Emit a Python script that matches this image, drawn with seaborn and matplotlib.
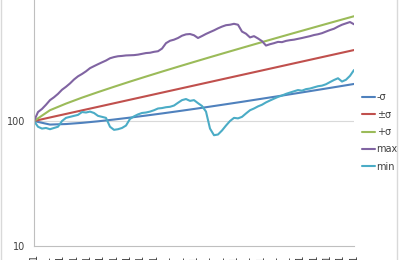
import matplotlib
matplotlib.use("Agg")
import matplotlib.pyplot as plt
import pandas as pd
import seaborn as sns
from matplotlib.patches import Rectangle
from matplotlib.ticker import NullLocator, FixedLocator

# ---- data ----
smooth_cat = list(range(1, 242, 12))
jag_cat = list(range(1, 242, 3))

minus_sigma = [100, 93.7, 94.6, 96.7, 99.5, 102.8, 106.5, 110.6, 115.0, 119.8, 124.9,
               130.4, 136.3, 142.5, 149.2, 156.2, 163.6, 171.5, 179.8, 188.6, 198.0]
pm_sigma = [100, 106.8, 114.0, 121.7, 129.9, 138.7, 148.1, 158.1, 168.8, 180.2, 192.4,
            205.4, 219.3, 234.1, 249.9, 266.8, 284.9, 304.1, 324.7, 346.6, 370.0]
plus_sigma = [100, 122.1, 137.9, 153.9, 170.4, 188.0, 206.9, 227.0, 248.7, 272.0, 297.1,
              324.3, 353.5, 385.1, 419.3, 456.1, 496.0, 539.0, 585.6, 635.9, 690.0]
max_vals = [100, 118, 125, 135, 147, 155, 165, 178, 188, 200, 215, 228, 238, 250, 265, 275,
            285, 295, 305, 318, 325, 330, 332, 335, 336, 337, 340, 345, 350, 352, 358, 362,
            380, 420, 439, 448, 462, 482, 494, 497, 486, 462, 479, 498, 515, 532, 552, 570,
            585, 590, 600, 590, 520, 500, 467, 478, 458, 436, 402, 412, 420, 430, 428, 438,
            444, 448, 455, 462, 470, 478, 488, 495, 505, 520, 535, 548, 570, 590, 605, 620, 595]
min_vals = [100, 90, 87, 88, 86, 88, 90, 100, 106, 108, 110, 112, 118, 117, 119, 116,
            110, 108, 106, 90, 85, 86, 88, 92, 104, 109, 113, 116, 117, 119, 122, 126,
            127, 129, 130, 133, 140, 147, 150, 145, 147, 139, 132, 119, 87, 77, 78, 84,
            92, 100, 106, 105, 108, 115, 122, 126, 131, 135, 141, 146, 151, 156, 160, 165,
            169, 173, 177, 175, 180, 182, 186, 190, 192, 197, 205, 213, 220, 207, 214, 230, 256]

series_names = ["-σ", "±σ", "+σ", "max", "min"]
colors = ["#4F81BD", "#C0504D", "#9BBB59", "#8064A2", "#4BACC6"]
tick_positions = list(range(1, 242, 10))
tick_labels = ["1", "11", "21", "31", "41", "51", "61", "71", "81", "91", "101", "111",
               "121", "131", "141", "151", "161", "171", "181", "191", "201", "211",
               "221", "231", "241"]

frames = []
for name, cats, vals in [("-σ", smooth_cat, minus_sigma), ("±σ", smooth_cat, pm_sigma),
                         ("+σ", smooth_cat, plus_sigma), ("max", jag_cat, max_vals),
                         ("min", jag_cat, min_vals)]:
    frames.append(pd.DataFrame({"cat": cats, "value": vals, "series": name}))
df = pd.concat(frames, ignore_index=True)

# ---- plot ----
sns.set_style("white")
plt.rcParams['font.family'] = ['DejaVu Sans']

fig = plt.figure(figsize=(4, 2.6), dpi=100)
ax = fig.add_axes([0.085, 0.054, 0.8, 0.961])

sns.lineplot(data=df, x="cat", y="value", hue="series", hue_order=series_names,
             palette=colors, linewidth=1.5, ax=ax, sort=False, estimator=None)

ax.set_yscale("log")
ax.set_ylim(10, 1000)
ax.set_xlim(1, 241)
ax.yaxis.set_major_locator(FixedLocator([10, 100, 1000]))
ax.yaxis.set_minor_locator(NullLocator())
ax.set_yticklabels(["10", "100", "1000"])
ax.axhline(100, color="#d9d9d9", lw=0.8, zorder=0)
ax.axhline(1000, color="#d9d9d9", lw=0.8, zorder=0)

ax.set_xticks(tick_positions)
ax.set_xticklabels(tick_labels, rotation=90, fontsize=7, color="#404040")
ax.set_xticks(list(range(1, 242)), minor=True)
ax.tick_params(axis="x", which="both", length=4, color="#d0d0d0", width=0.8, pad=2)
ax.tick_params(axis="y", which="major", length=3, color="#bfbfbf", labelsize=7,
               labelcolor="#404040", pad=3)

for s in ["top", "right"]:
    ax.spines[s].set_visible(False)
for s in ["left", "bottom"]:
    ax.spines[s].set_color("#bfbfbf")
    ax.spines[s].set_linewidth(0.8)

ax.set_xlabel("")
ax.set_ylabel("")

leg = ax.legend(loc="center left", bbox_to_anchor=(0.905, 0.492),
                bbox_transform=fig.transFigure, frameon=False, fontsize=7,
                handlelength=1.35, handletextpad=0.15, labelspacing=0.75,
                borderpad=0, borderaxespad=0)
for t in leg.get_texts():
    t.set_color("#404040")

fig.patches.append(Rectangle((0.003, -0.05), 0.99, 1.1, transform=fig.transFigure,
                             fill=False, ec="#d9d9d9", lw=1))

fig.savefig("out.png", dpi=100)
